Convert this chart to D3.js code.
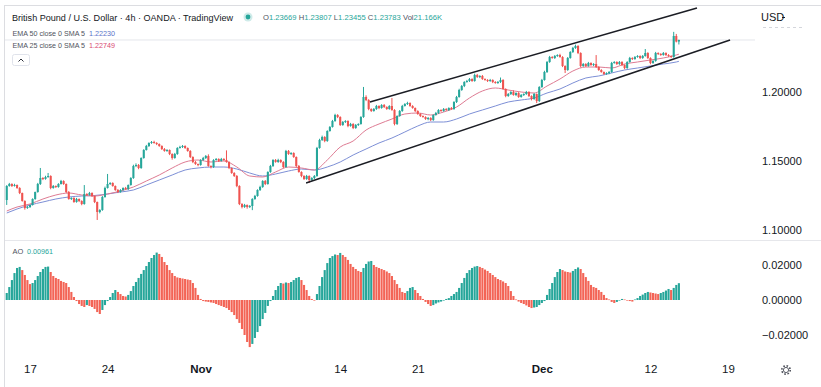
<!DOCTYPE html>
<html>
<head>
<meta charset="utf-8">
<script src="https://cdn.jsdelivr.net/npm/d3@7"></script>
<style>
  html, body { margin: 0; padding: 0; background: #fff; }
  svg { display: block; font-family: "Liberation Sans", Arial, sans-serif; }
</style>
</head>
<body>
<div id="chart"></div>
<script>
// ---- data (GBP/USD 4h) ----
const firstOpen = 1.12145
const closes = [
  1.13164, 1.13309, 1.13164, 1.13236, 1.13018, 1.12654, 1.12073, 1.11563, 1.11636, 1.11782,
  1.12218, 1.12727, 1.13309, 1.13745, 1.13673, 1.13818, 1.13891, 1.13018, 1.13164, 1.13091,
  1.13309, 1.13527, 1.13309, 1.12727, 1.12218, 1.12291, 1.12000, 1.12218, 1.12073, 1.11854,
  1.12582, 1.12509, 1.12654, 1.12436, 1.12000, 1.11273, 1.11418, 1.12363, 1.13018, 1.13309,
  1.13382, 1.13164, 1.12873, 1.12727, 1.12873, 1.13018, 1.12945, 1.13236, 1.13745, 1.14618,
  1.14691, 1.14473, 1.15200, 1.15782, 1.16073, 1.16291, 1.16363, 1.16291, 1.16218, 1.16073,
  1.15854, 1.15709, 1.15782, 1.15491, 1.15200, 1.15491, 1.15927, 1.16000, 1.16073, 1.15927,
  1.15709, 1.15273, 1.14909, 1.14763, 1.14691, 1.15054, 1.15200, 1.15345, 1.14618, 1.14545,
  1.15054, 1.15127, 1.14982, 1.15127, 1.15054, 1.14909, 1.14473, 1.14109, 1.13891, 1.13164,
  1.11854, 1.11636, 1.11782, 1.11636, 1.11709, 1.12218, 1.12436, 1.12873, 1.13091, 1.13527,
  1.13309, 1.14182, 1.14618, 1.15054, 1.14909, 1.15054, 1.14909, 1.14545, 1.15709, 1.15491,
  1.15563, 1.15273, 1.14618, 1.14182, 1.13891, 1.13673, 1.13891, 1.13600, 1.13745, 1.13891,
  1.15927, 1.16509, 1.16727, 1.16436, 1.17164, 1.17454, 1.17891, 1.18327, 1.18182, 1.17600,
  1.17818, 1.17891, 1.17527, 1.17673, 1.17382, 1.17600, 1.17673, 1.18182, 1.19636, 1.19418,
  1.18763, 1.18618, 1.18763, 1.18982, 1.18836, 1.19054, 1.18909, 1.18763, 1.18982, 1.18691,
  1.17673, 1.18254, 1.18618, 1.18982, 1.19127, 1.19200, 1.18982, 1.18836, 1.18618, 1.18400,
  1.18254, 1.18182, 1.18036, 1.18109, 1.17963, 1.18327, 1.18473, 1.18691, 1.18618, 1.18763,
  1.18691, 1.18836, 1.18763, 1.19273, 1.19636, 1.20145, 1.20436, 1.20727, 1.20800, 1.20945,
  1.20800, 1.21236, 1.21091, 1.21164, 1.20945, 1.20873, 1.20800, 1.20873, 1.20727, 1.20654,
  1.20727, 1.20873, 1.20218, 1.19709, 1.19854, 1.20000, 1.19782, 1.19927, 1.19636, 1.19782,
  1.19854, 1.20000, 1.19709, 1.19491, 1.19854, 1.19345, 1.20363, 1.20873, 1.21454, 1.22182,
  1.22545, 1.22473, 1.22618, 1.22691, 1.22545, 1.21891, 1.21600, 1.22473, 1.22909, 1.23200,
  1.23345, 1.22836, 1.21891, 1.22036, 1.21891, 1.22109, 1.21963, 1.22036, 1.21818, 1.21600,
  1.21454, 1.21309, 1.21382, 1.21454, 1.22109, 1.22182, 1.22036, 1.22182, 1.21963, 1.21745,
  1.22182, 1.22473, 1.22400, 1.22545, 1.22618, 1.22473, 1.22618, 1.22836, 1.22473, 1.22109,
  1.22254, 1.22836, 1.22764, 1.22691, 1.22836, 1.22691, 1.22618, 1.22545, 1.24073, 1.23669, 1.23783
]
// wick lengths beyond the body, in pips
const wickUp = [
  6, 8, 5, 9, 4, 6, 3, 5, 7, 4,
  5, 3, 8, 73, 6, 9, 22, 5, 7, 4,
  6, 8, 5, 4, 7, 5, 6, 8, 4, 5,
  65, 6, 8, 5, 4, 3, 6, 7, 10, 73,
  6, 5, 4, 7, 6, 5, 8, 4, 6, 9,
  12, 7, 5, 6, 8, 5, 7, 9, 6, 4,
  5, 7, 6, 4, 5, 8, 6, 9, 7, 5,
  4, 6, 5, 7, 3, 6, 8, 7, 12, 5,
  6, 7, 5, 8, 6, 70, 5, 4, 6, 7,
  5, 6, 8, 4, 7, 6, 8, 5, 9, 6,
  7, 5, 8, 6, 7, 9, 5, 6, 8, 7,
  6, 5, 4, 7, 5, 6, 8, 5, 6, 7,
  8, 9, 10, 6, 5, 7, 8, 9, 6, 5,
  7, 6, 5, 8, 6, 7, 5, 6, 73, 12,
  6, 5, 7, 8, 5, 6, 7, 5, 6, 58,
  6, 5, 7, 8, 6, 9, 5, 6, 4, 5,
  6, 4, 5, 7, 6, 5, 8, 6, 5, 7,
  6, 5, 7, 6, 8, 9, 7, 6, 8, 7,
  5, 10, 8, 6, 7, 5, 6, 8, 5, 6,
  7, 18, 6, 5, 7, 6, 12, 5, 6, 7,
  5, 8, 6, 5, 7, 4, 6, 8, 9, 7,
  8, 6, 7, 5, 9, 6, 5, 7, 6, 8,
  10, 6, 5, 7, 6, 8, 5, 6, 65, 5,
  6, 4, 5, 7, 8, 6, 5, 7, 6, 5,
  6, 8, 5, 7, 6, 5, 7, 29, 6, 5,
  6, 8, 5, 6, 7, 5, 6, 5, 30, 15, 2.4
]
const wickDn = [
  36, 5, 7, 4, 6, 8, 5, 12, 6, 7,
  4, 6, 5, 7, 8, 5, 6, 9, 5, 7,
  5, 4, 6, 8, 5, 7, 6, 5, 8, 9,
  5, 6, 4, 7, 8, 58, 10, 6, 5, 4,
  7, 5, 6, 8, 5, 6, 4, 7, 5, 6,
  8, 9, 6, 5, 4, 7, 6, 5, 8, 6,
  7, 5, 6, 8, 12, 5, 6, 4, 7, 6,
  5, 7, 8, 6, 9, 5, 6, 7, 5, 10,
  6, 5, 7, 4, 6, 5, 8, 6, 7, 9,
  8, 10, 6, 12, 7, 30, 6, 5, 7, 6,
  8, 5, 6, 7, 5, 6, 8, 7, 5, 6,
  7, 6, 8, 5, 9, 7, 6, 22, 5, 8,
  6, 5, 7, 9, 6, 5, 4, 6, 8, 7,
  6, 7, 9, 5, 8, 6, 7, 5, 6, 8,
  9, 7, 5, 6, 8, 5, 7, 6, 5, 6,
  10, 7, 5, 6, 4, 7, 6, 5, 8, 6,
  7, 5, 6, 9, 8, 6, 5, 7, 6, 5,
  6, 7, 5, 6, 7, 5, 6, 8, 5, 7,
  6, 5, 7, 8, 6, 5, 7, 6, 8, 5,
  6, 7, 5, 9, 6, 7, 5, 8, 6, 5,
  7, 6, 8, 10, 6, 15, 7, 6, 5, 7,
  6, 5, 7, 6, 5, 8, 22, 6, 5, 7,
  6, 8, 10, 6, 7, 5, 6, 8, 7, 6,
  5, 7, 6, 9, 6, 5, 7, 6, 8, 9,
  6, 5, 7, 6, 5, 8, 6, 5, 7, 9,
  6, 5, 7, 6, 5, 7, 6, 8, 5, 6, 21.4
]
const aoValues = [
  0.0040, 0.0074, 0.0114, 0.0154, 0.0183, 0.0189, 0.0171, 0.0143, 0.0114, 0.0091,
  0.0097, 0.0114, 0.0137, 0.0160, 0.0177, 0.0189, 0.0191, 0.0160, 0.0137, 0.0126,
  0.0120, 0.0109, 0.0103, 0.0097, 0.0074, 0.0046, 0.0017, -0.0006, -0.0023, -0.0034,
  -0.0040, -0.0029, -0.0034, -0.0040, -0.0051, -0.0069, -0.0080, -0.0057, -0.0029, -0.0006,
  0.0017, 0.0040, 0.0057, 0.0046, 0.0034, 0.0023, 0.0020, 0.0029, 0.0051, 0.0080,
  0.0103, 0.0126, 0.0149, 0.0171, 0.0194, 0.0217, 0.0240, 0.0257, 0.0271, 0.0263,
  0.0246, 0.0217, 0.0200, 0.0171, 0.0154, 0.0137, 0.0129, 0.0126, 0.0123, 0.0120,
  0.0117, 0.0114, 0.0097, 0.0069, 0.0029, 0.0006, -0.0006, -0.0009, -0.0011, -0.0014,
  -0.0017, -0.0023, -0.0029, -0.0034, -0.0040, -0.0046, -0.0057, -0.0069, -0.0086, -0.0109,
  -0.0131, -0.0166, -0.0200, -0.0240, -0.0269, -0.0251, -0.0217, -0.0183, -0.0149, -0.0109,
  -0.0074, -0.0034, -0.0006, 0.0023, 0.0057, 0.0080, 0.0097, 0.0094, 0.0100, 0.0097,
  0.0103, 0.0114, 0.0126, 0.0131, 0.0114, 0.0086, 0.0057, 0.0023, 0.0006, -0.0003,
  0.0034, 0.0080, 0.0131, 0.0171, 0.0211, 0.0240, 0.0251, 0.0260, 0.0257, 0.0269,
  0.0257, 0.0246, 0.0229, 0.0206, 0.0189, 0.0177, 0.0166, 0.0160, 0.0183, 0.0206,
  0.0220, 0.0223, 0.0200, 0.0189, 0.0183, 0.0177, 0.0171, 0.0163, 0.0154, 0.0137,
  0.0114, 0.0091, 0.0069, 0.0046, 0.0040, 0.0051, 0.0069, 0.0074, 0.0057, 0.0040,
  0.0023, 0.0006, -0.0011, -0.0023, -0.0034, -0.0029, -0.0020, -0.0014, -0.0009, -0.0003,
  0.0006, 0.0011, 0.0023, 0.0034, 0.0046, 0.0069, 0.0097, 0.0126, 0.0154, 0.0171,
  0.0183, 0.0191, 0.0194, 0.0189, 0.0183, 0.0174, 0.0166, 0.0154, 0.0143, 0.0131,
  0.0120, 0.0114, 0.0106, 0.0097, 0.0080, 0.0051, 0.0023, 0.0003, -0.0009, -0.0017,
  -0.0023, -0.0031, -0.0040, -0.0046, -0.0043, -0.0040, -0.0029, -0.0017, -0.0006, 0.0029,
  0.0063, 0.0097, 0.0131, 0.0160, 0.0177, 0.0171, 0.0163, 0.0160, 0.0157, 0.0166,
  0.0177, 0.0186, 0.0177, 0.0154, 0.0131, 0.0109, 0.0086, 0.0074, 0.0069, 0.0057,
  0.0046, 0.0029, 0.0011, 0.0003, -0.0011, -0.0017, -0.0011, -0.0003, 0.0006, 0.0003,
  -0.0003, -0.0006, -0.0009, 0.0003, 0.0011, 0.0023, 0.0031, 0.0040, 0.0046, 0.0043,
  0.0040, 0.0037, 0.0034, 0.0040, 0.0046, 0.0054, 0.0063, 0.0057, 0.0069, 0.0086, 0.00961
]
// moving averages sampled at these bars
const emaBars = [0, 4, 9, 14, 19, 24, 29, 34, 39, 44, 49, 54, 59, 64, 69, 74, 79, 84, 89, 94,
  99, 104, 109, 114, 119, 124, 129, 134, 139, 144, 149, 154, 159, 164, 169, 174, 179, 184, 189, 194,
  199, 204, 209, 214, 219, 224, 229, 234, 239, 244, 249, 254, 259, 260]
const ema25 = [1.11345, 1.11636, 1.11854, 1.12218, 1.12509, 1.12654, 1.12509, 1.12436, 1.12582, 1.12800,
  1.13091, 1.13527, 1.13963, 1.14473, 1.14909, 1.15054, 1.14909, 1.14982, 1.14545, 1.13891,
  1.13818, 1.14182, 1.14545, 1.14473, 1.14327, 1.15054, 1.16000, 1.16436, 1.17236, 1.17673,
  1.18036, 1.18400, 1.18473, 1.18327, 1.18545, 1.18909, 1.19563, 1.20073, 1.20291, 1.20145,
  1.20000, 1.19927, 1.20436, 1.20945, 1.21527, 1.21818, 1.21818, 1.21745, 1.22036, 1.22182,
  1.22327, 1.22473, 1.22691, 1.22749]
const ema50 = [1.11200, 1.11491, 1.11782, 1.12000, 1.12218, 1.12363, 1.12436, 1.12473, 1.12582, 1.12727,
  1.12873, 1.13236, 1.13600, 1.13963, 1.14327, 1.14473, 1.14545, 1.14545, 1.14400, 1.14109,
  1.13891, 1.14036, 1.14254, 1.14400, 1.14327, 1.14545, 1.14909, 1.15418, 1.15854, 1.16291,
  1.16654, 1.17091, 1.17527, 1.17818, 1.17818, 1.18036, 1.18400, 1.18691, 1.18982, 1.19273,
  1.19418, 1.19563, 1.19927, 1.20218, 1.20654, 1.21018, 1.21164, 1.21382, 1.21600, 1.21745,
  1.21891, 1.22036, 1.22182, 1.22230]
// channel lines drawn on the chart (bar, price)
const channelLines = [
  { b0: 115.8, p0: 1.13382, b1: 279.8, p1: 1.23782 },
  { b0: 140.5, p0: 1.19273, b1: 267.0, p1: 1.26109 }
]
const tickBars = [9, 39, 75, 129, 159, 207, 249, 279]
const tickLabels = ['17', '24', 'Nov', '14', '21', 'Dec', '12', '19']
const monthLabels = ['Nov', 'Dec']
const priceTicks = [1.10, 1.15, 1.20]
const aoTicks = [-0.02, 0, 0.02]
const lastBar = { o: '1.23669', h: '1.23807', l: '1.23455', c: '1.23783', vol: '21.166K' }
const lastEma50 = '1.22230', lastEma25 = '1.22749', lastAo = '0.00961'

// ---- consts ----
const W = 821, H = 387
const upCol = '#26a69a', downCol = '#ef5350'
const aoUp = '#26a69a', aoDown = '#f36456'
const textCol = '#131722', mutedCol = '#50535e'

// ---- scales ----
const x = d3.scaleLinear().domain([9, 279]).range([30, 728])
const y = d3.scaleLinear().domain([1.10, 1.20]).range([229.5, 92])
const yAo = d3.scaleLinear().domain([-0.02, 0.02]).range([335, 265])
const step = x(1) - x(0)

const bars = closes.map((c, i) => {
  const o = i === 0 ? firstOpen : closes[i - 1]
  return { i, o, c, h: Math.max(o, c) + wickUp[i] * 1e-4, l: Math.min(o, c) - wickDn[i] * 1e-4 }
})

const svg = d3.select('#chart').append('svg').attr('width', W).attr('height', H)
svg.append('rect').attr('width', W).attr('height', H).attr('fill', '#fff')

const defs = svg.append('defs')
defs.append('clipPath').attr('id', 'pclip').append('rect').attr('x', 5).attr('y', 6).attr('width', 750).attr('height', 234)
defs.append('clipPath').attr('id', 'aclip').append('rect').attr('x', 5).attr('y', 241).attr('width', 750).attr('height', 115)

// frame + pane separator
svg.append('line').attr('x1', 4).attr('x2', W).attr('y1', 5.5).attr('y2', 5.5).attr('stroke', '#dcdde1')
svg.append('line').attr('x1', 4.5).attr('x2', 4.5).attr('y1', 5).attr('y2', H).attr('stroke', '#dcdde1')
svg.append('line').attr('x1', 5).attr('x2', W).attr('y1', 240.5).attr('y2', 240.5).attr('stroke', '#e6e7eb')

// ---- price pane ----
const pane = svg.append('g').attr('clip-path', 'url(#pclip)')
pane.append('line').attr('x1', 5).attr('x2', 755)
  .attr('y1', y(+lastBar.c)).attr('y2', y(+lastBar.c)).attr('stroke', '#e4e6eb')

const ema = (vals) => emaBars.map((b, k) => ({ b, v: vals[k] }))
const emaLine = d3.line().x(d => x(d.b)).y(d => y(d.v)).curve(d3.curveMonotoneX)
pane.append('path').attr('d', emaLine(ema(ema50))).attr('fill', 'none').attr('stroke', '#7d8fd6').attr('stroke-width', 1)
pane.append('path').attr('d', emaLine(ema(ema25))).attr('fill', 'none').attr('stroke', '#de7b93').attr('stroke-width', 1)

const candle = pane.selectAll('g.candle').data(bars).enter().append('g')
  .attr('fill', d => d.c >= d.o ? upCol : downCol)
  .attr('stroke', d => d.c >= d.o ? upCol : downCol)
candle.append('line')
  .attr('x1', d => x(d.i)).attr('x2', d => x(d.i))
  .attr('y1', d => y(d.h)).attr('y2', d => y(d.l)).attr('stroke-width', 1)
const bw = step * 0.8
candle.append('rect')
  .attr('x', d => x(d.i) - bw / 2).attr('width', bw)
  .attr('y', d => y(Math.max(d.o, d.c)))
  .attr('height', d => Math.max(1, Math.abs(y(d.o) - y(d.c))))
  .attr('stroke', 'none')

pane.selectAll('line.channel').data(channelLines).enter().append('line')
  .attr('x1', d => x(d.b0)).attr('y1', d => y(d.p0))
  .attr('x2', d => x(d.b1)).attr('y2', d => y(d.p1))
  .attr('stroke', '#1b1d24').attr('stroke-width', 1.5)

// ---- AO pane ----
const ao = svg.append('g').attr('clip-path', 'url(#aclip)')
const aw = step * 0.82
ao.selectAll('rect').data(aoValues).enter().append('rect')
  .attr('x', (d, i) => x(i) - aw / 2).attr('width', aw)
  .attr('y', d => Math.min(yAo(d), yAo(0)))
  .attr('height', d => Math.max(0.6, Math.abs(yAo(d) - yAo(0))))
  .attr('fill', (d, i) => i === 0 || d >= aoValues[i - 1] ? aoUp : aoDown)

// ---- axes ----
const styleAxis = g => {
  g.select('.domain').remove()
  g.selectAll('text').attr('fill', textCol).attr('font-size', 11)
    .attr('font-family', '"Liberation Sans", Arial, sans-serif')
}
svg.append('g').attr('transform', 'translate(762,0)')
  .call(d3.axisRight(y).tickValues(priceTicks).tickFormat(d3.format('.5f')).tickSize(0).tickPadding(0))
  .call(styleAxis)
svg.append('g').attr('transform', 'translate(762,0)')
  .call(d3.axisRight(yAo).tickValues(aoTicks).tickFormat(d3.format('.5f')).tickSize(0).tickPadding(0))
  .call(styleAxis)
svg.append('g').attr('transform', 'translate(0,365)')
  .call(d3.axisBottom(x).tickValues(tickBars).tickFormat((d, i) => tickLabels[i]).tickSize(0).tickPadding(0))
  .call(styleAxis)
  .call(g => g.selectAll('text').attr('font-size', 11.5)
    .attr('font-weight', (d, i) => monthLabels.includes(tickLabels[i]) ? 'bold' : null))

svg.append('text').attr('x', 761).attr('y', 21).attr('font-size', 11).attr('fill', textCol).text('USD')
svg.append('line').attr('x1', 782).attr('x2', 785).attr('y1', 17.5).attr('y2', 17.5).attr('stroke', textCol)
svg.append('line').attr('x1', 763).attr('x2', 805).attr('y1', 27.5).attr('y2', 27.5)
  .attr('stroke', '#d4d6dc').attr('stroke-dasharray', '3,3')

// settings icon
const gear = svg.append('g').attr('transform', 'translate(786,370)')
gear.append('circle').attr('r', 4.2).attr('fill', 'none').attr('stroke', '#4a4d57')
  .attr('stroke-width', 1.6).attr('stroke-dasharray', '1.6,1.7')
gear.append('circle').attr('r', 2.6).attr('fill', '#fff').attr('stroke', '#4a4d57').attr('stroke-width', 0.9)

// ---- legend ----
svg.append('text').attr('x', 12).attr('y', 20.5).attr('font-size', 9.2).attr('fill', textCol)
  .attr('textLength', 221).attr('lengthAdjust', 'spacingAndGlyphs')
  .text('British Pound / U.S. Dollar · 4h · OANDA · TradingView')
svg.append('circle').attr('cx', 248).attr('cy', 17).attr('r', 4.5).attr('fill', upCol).attr('fill-opacity', 0.22)
svg.append('circle').attr('cx', 248).attr('cy', 17).attr('r', 2.4).attr('fill', upCol)

const ohlc = svg.append('text').attr('x', 263).attr('y', 20).attr('font-size', 7.6)
  .attr('textLength', 179).attr('lengthAdjust', 'spacingAndGlyphs')
;[['O', lastBar.o], [' H', lastBar.h], [' L', lastBar.l], [' C', lastBar.c], [' Vol', lastBar.vol]].forEach(([k, v]) => {
  ohlc.append('tspan').attr('fill', mutedCol).text(k)
  ohlc.append('tspan').attr('fill', upCol).text(v)
})

const legendRow = (yy, label, val, col) => {
  svg.append('text').attr('x', 12.5).attr('y', yy).attr('font-size', 7.1).attr('fill', mutedCol)
    .attr('textLength', 72.5).attr('lengthAdjust', 'spacingAndGlyphs').text(label)
  svg.append('text').attr('x', 89).attr('y', yy).attr('font-size', 7.1).attr('fill', col)
    .attr('textLength', 26).attr('lengthAdjust', 'spacingAndGlyphs').text(val)
}
legendRow(36, 'EMA 50 close 0 SMA 5', lastEma50, '#5a73c9')
legendRow(48.3, 'EMA 25 close 0 SMA 5', lastEma25, '#d94a72')

// collapse button
svg.append('rect').attr('x', 12.5).attr('y', 54.5).attr('width', 17).attr('height', 11).attr('rx', 2)
  .attr('fill', '#fff').attr('stroke', '#e0e3eb')
svg.append('path').attr('d', 'M18.5,61.5 L21,59 L23.5,61.5').attr('fill', 'none').attr('stroke', textCol).attr('stroke-width', 0.9)

// AO legend
svg.append('text').attr('x', 12.5).attr('y', 253.8).attr('font-size', 7.5).attr('fill', mutedCol).text('AO')
svg.append('text').attr('x', 27).attr('y', 253.8).attr('font-size', 7.5).attr('fill', upCol)
  .attr('textLength', 26).attr('lengthAdjust', 'spacingAndGlyphs').text(lastAo)
</script>
</body>
</html>
